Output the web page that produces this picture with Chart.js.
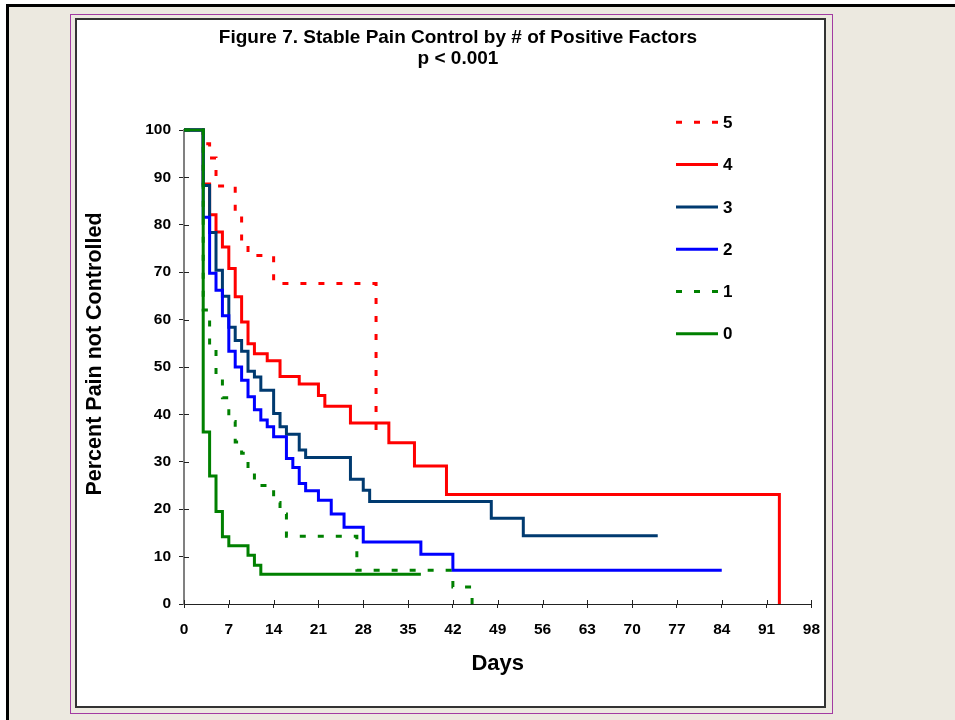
<!DOCTYPE html>
<html>
<head>
<meta charset="utf-8">
<script src="https://cdn.jsdelivr.net/npm/chart.js@4.4.0/dist/chart.umd.min.js"></script>
<style>
  html, body { margin: 0; padding: 0; background: #fff; width: 955px; height: 720px; overflow: hidden; }
  #win { position: absolute; left: 6px; top: 4px; width: 960px; height: 720px; background: #ECE9E0;
         border-top: 3px solid #000; border-left: 3px solid #000; box-sizing: border-box; }
  #outer { position: absolute; left: 70px; top: 14px; width: 763px; height: 700px;
           border: 1px solid #A23BA2; box-sizing: border-box; }
  #frame { position: absolute; left: 75px; top: 18px; width: 751px; height: 690px; background: #fff;
           border: 2px solid #333; box-sizing: border-box; }
  /* canvas is a bit wider than the frame, it is transparent so the frame edge still shows */
  #holder { position: absolute; left: 77px; top: 20px; width: 755px; height: 686px; }
</style>
</head>
<body>
<div id="win"></div>
<div id="outer"></div>
<div id="frame"></div>
<div id="holder"><canvas id="km-chart"></canvas></div>
<script>
// ---------------- data ----------------
// days and % still not controlled, one pair of arrays per number of positive factors
const days0 = [0, 3, 4, 5, 6, 7, 10, 11, 12, 37];
const pct0  = [100, 36.3, 27.0, 19.5, 14.2, 12.3, 10.3, 8.2, 6.3, 6.3];

const days1 = [0, 3, 4, 5, 6, 7, 8, 9, 10, 11, 14, 15, 16, 27, 42, 45];
const pct1  = [100, 62.0, 54.6, 48.0, 43.5, 38.5, 34.2, 31.8, 28.6, 25.0, 21.4, 19.0, 14.3, 7.1, 3.6, 0];

const days2 = [0, 3, 4, 5, 6, 7, 8, 9, 10, 11, 12, 13, 14, 16, 17, 18, 19, 21, 23, 25, 28, 37, 42, 84];
const pct2  = [100, 81.6, 69.8, 66.2, 60.8, 53.3, 50.0, 47.2, 43.7, 41.0, 38.8, 37.4, 35.3, 30.7, 28.8,
               25.4, 23.9, 21.9, 19.0, 16.2, 13.1, 10.5, 7.1, 7.1];

const days3 = [0, 3, 4, 5, 6, 7, 8, 9, 10, 11, 12, 14, 15, 16, 18, 19, 26, 28, 29, 48, 53, 74];
const pct3  = [100, 88.3, 78.4, 70.4, 64.9, 58.4, 55.6, 53.3, 49.1, 47.9, 45.1, 40.2, 37.4, 35.8, 32.5,
               30.9, 26.3, 24.0, 21.6, 18.1, 14.4, 14.4];

const days4 = [0, 3, 4, 5, 6, 7, 8, 9, 10, 11, 13, 15, 18, 21, 22, 26, 32, 36, 41, 93];
const pct4  = [100, 88.6, 82.1, 78.5, 75.3, 70.8, 64.8, 59.5, 54.9, 52.8, 51.3, 48.0, 46.4, 44.0, 41.7,
               38.2, 34.0, 29.1, 23.1, 0];

const days5 = [0, 3, 4, 5, 8, 9, 10, 14, 30];
const pct5  = [100, 97.1, 94.1, 88.2, 82.4, 76.5, 73.5, 67.6, 35.3];

const series_labels = ["0", "1", "2", "3", "4", "5"];
const title_lines = ["Figure 7. Stable Pain Control by # of Positive Factors", "p < 0.001"];
const y_title = "Percent Pain not Controlled";

// ---------------- helpers ----------------
function toPoints(days, pct) {
    return days.map((d, i) => ({ x: d, y: pct[i] }));
}

function kmSet(label, days, pct, color, dashed) {
    return {
        label: label,
        data: toPoints(days, pct),
        borderColor: color,
        backgroundColor: color,
        borderWidth: 3,
        borderDash: dashed ? [6, 12] : [],
        borderJoinStyle: 'miter',
        borderCapStyle: 'butt',
        stepped: 'before',   // hold the value, then drop at the next day
        pointRadius: 0,
        fill: false,
        clip: false
    };
}

Chart.defaults.font.family = "'Liberation Sans', Arial, sans-serif";
Chart.defaults.font.weight = 'bold';
Chart.defaults.color = '#000';

// ---------------- plugins ----------------
// tick marks in Excel cross the axis, chart.js only draws the outer half
const innerTicks = {
    id: 'innerTicks',
    beforeDatasetsDraw(chart) {
        const ctx = chart.ctx;
        const xs = chart.scales.x;
        const ys = chart.scales.y;
        ctx.save();
        ctx.strokeStyle = '#222';
        ctx.lineWidth = 1;
        ctx.beginPath();
        xs.ticks.forEach((t, i) => {
            const px = Math.round(xs.getPixelForTick(i)) + 0.5;
            ctx.moveTo(px, xs.top);
            ctx.lineTo(px, xs.top - 4);
        });
        ys.ticks.forEach((t, i) => {
            const py = Math.round(ys.getPixelForTick(i)) + 0.5;
            ctx.moveTo(ys.right, py);
            ctx.lineTo(ys.right + 5, py);
        });
        ctx.stroke();
        ctx.restore();
    }
};

const headerAndKey = {
    id: 'headerAndKey',
    afterDraw(chart, args, opts) {
        const ctx = chart.ctx;
        ctx.save();
        // title
        ctx.fillStyle = '#000';
        ctx.font = "bold 19px 'Liberation Sans', Arial, sans-serif";
        ctx.textAlign = 'center';
        ctx.textBaseline = 'middle';
        title_lines.forEach((line, i) => ctx.fillText(line, opts.titleX, opts.titleY + i * opts.titleGap));

        // y axis title, sits a bit above the middle of the axis in the original
        ctx.save();
        ctx.translate(opts.yTitleX, opts.yTitleY);
        ctx.rotate(-Math.PI / 2);
        ctx.font = "bold 21.5px 'Liberation Sans', Arial, sans-serif";
        ctx.fillText(y_title, 0, 0);
        ctx.restore();

        // legend, top to bottom 5..0
        ctx.font = "bold 17px 'Liberation Sans', Arial, sans-serif";
        ctx.textAlign = 'left';
        const sets = chart.data.datasets.slice().reverse();
        sets.forEach((ds, i) => {
            const y = opts.keyY + i * opts.keyGap;
            ctx.strokeStyle = ds.borderColor;
            ctx.lineWidth = ds.borderWidth;
            ctx.setLineDash(ds.borderDash);
            ctx.beginPath();
            ctx.moveTo(opts.keyX, y);
            ctx.lineTo(opts.keyX + opts.keyLen, y);
            ctx.stroke();
            ctx.setLineDash([]);
            ctx.fillText(ds.label, opts.keyX + opts.keyLen + 5, y + 1);
        });
        ctx.restore();
    }
};

// ---------------- chart ----------------
const km_canvas = document.getElementById("km-chart");

const km_chart = new Chart(km_canvas, {
    type: 'line',
    data: {
        datasets: [
            kmSet(series_labels[0], days0, pct0, '#008000', false),
            kmSet(series_labels[1], days1, pct1, '#008000', true),
            kmSet(series_labels[2], days2, pct2, '#0000FF', false),
            kmSet(series_labels[3], days3, pct3, '#003A70', false),
            kmSet(series_labels[4], days4, pct4, '#FF0000', false),
            kmSet(series_labels[5], days5, pct5, '#FF0000', true)
        ]
    },
    options: {
        responsive: true,
        maintainAspectRatio: false,
        animation: false,
        layout: {
            padding: { top: 110, right: 5, left: 0, bottom: 0 }
        },
        scales: {
            x: {
                type: 'linear',
                min: 0,
                max: 98,
                ticks: { stepSize: 7, padding: 12, font: { size: 15.5, weight: 'bold' }, color: '#000' },
                grid: { drawOnChartArea: false, tickLength: 4, color: '#222' },
                border: { color: '#222', width: 1 },
                title: { display: true, text: 'Days', font: { size: 22, weight: 'bold' }, color: '#000',
                         padding: { top: 0, bottom: 29 } },
                afterFit(scale) { scale.height = 102; }
            },
            y: {
                min: 0,
                max: 100,
                ticks: { stepSize: 10, padding: 8, font: { size: 15.5, weight: 'bold' }, color: '#000' },
                grid: { drawOnChartArea: false, tickLength: 5, color: '#222' },
                border: { color: '#808080', width: 2 },
                afterFit(scale) { scale.width = 107; }
            }
        },
        plugins: {
            legend: { display: false },
            tooltip: { enabled: false },
            headerAndKey: {
                titleX: 381, titleY: 18, titleGap: 21,
                yTitleX: 18, yTitleY: 334,
                keyX: 599, keyLen: 42, keyY: 102.3, keyGap: 42.3
            }
        }
    },
    plugins: [innerTicks, headerAndKey]
});
</script>
</body>
</html>
